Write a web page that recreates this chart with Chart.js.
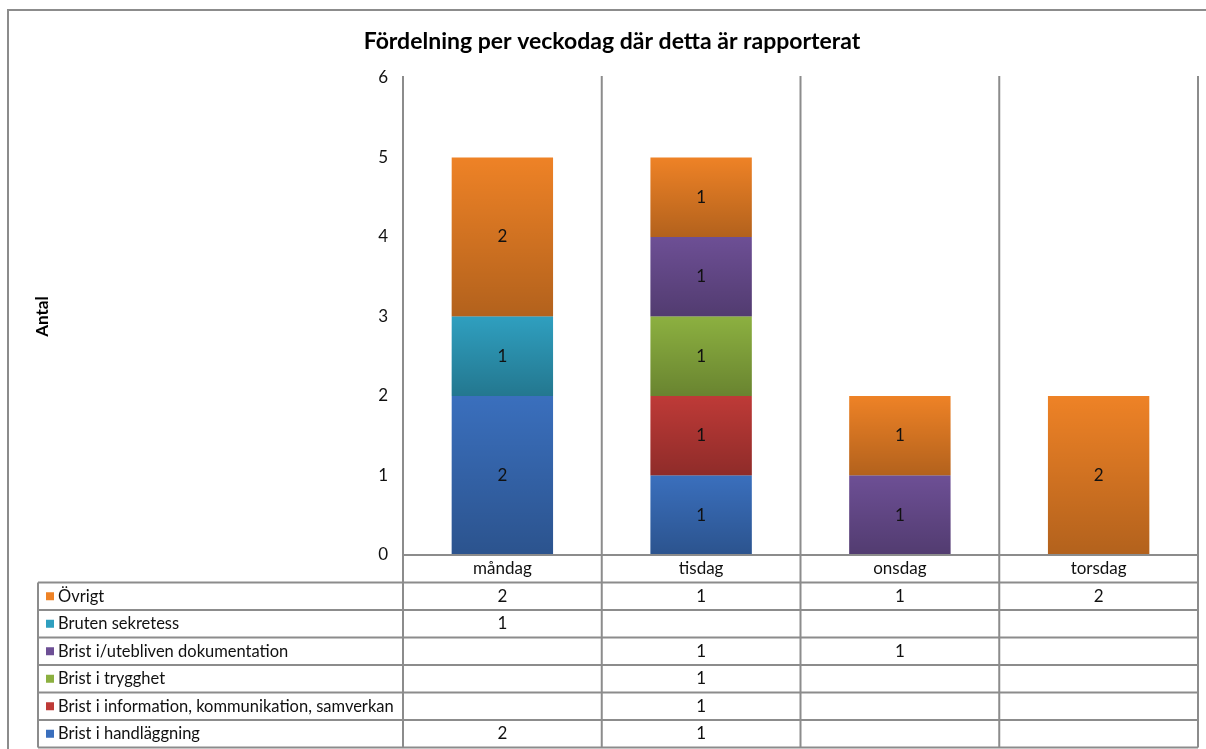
<!DOCTYPE html>
<html>
<head>
<meta charset="utf-8">
<script src="https://cdn.jsdelivr.net/npm/chart.js@4"></script>
<style>
  html, body { margin: 0; padding: 0; background: #fff; }
  #wrap { width: 1206px; height: 749px; position: relative; }
</style>
</head>
<body>
<div id="wrap"><canvas id="chart" width="1206" height="749"></canvas></div>
<script>
// data
const days = ['måndag', 'tisdag', 'onsdag', 'torsdag'];
const handlaggning = [2, 1, null, null];
const information = [null, 1, null, null];
const trygghet = [null, 1, null, null];
const dokumentation = [null, 1, 1, null];
const sekretess = [1, null, null, null];
const ovrigt = [2, 1, 1, 2];
const yMax = 6;

const seriesNames = ['Brist i handläggning', 'Brist i information, kommunikation, samverkan',
  'Brist i trygghet', 'Brist i/utebliven dokumentation', 'Bruten sekretess', 'Övrigt'];
const seriesData = [handlaggning, information, trygghet, dokumentation, sekretess, ovrigt];
const seriesColors = ['#3a6fbd', '#be3a37', '#8cb040', '#6d4f95', '#2f9fbf', '#ee8226'];

const FONT = 'Lato, "Liberation Sans", sans-serif';
const LINE = '#8c8c8c';

// gradient shading + value labels on each segment
const barPlugin = {
  id: 'barPlugin',
  afterDatasetsDraw(chart) {
    const ctx = chart.ctx;
    chart.data.datasets.forEach((ds, di) => {
      const meta = chart.getDatasetMeta(di);
      meta.data.forEach((el, i) => {
        const v = ds.data[i];
        if (v == null) return;
        const top = Math.min(el.y, el.base), bot = Math.max(el.y, el.base);
        const g = ctx.createLinearGradient(0, top, 0, bot);
        g.addColorStop(0, 'rgba(0,0,0,0)');
        g.addColorStop(1, 'rgba(0,0,0,0.25)');
        ctx.save();
        ctx.fillStyle = g;
        ctx.fillRect(el.x - el.width / 2, top, el.width, bot - top);
        ctx.fillStyle = '#111';
        ctx.font = '17px ' + FONT;
        ctx.textAlign = 'center';
        ctx.textBaseline = 'middle';
        ctx.fillText(String(v), el.x, (top + bot) / 2);
        ctx.restore();
      });
    });
  }
};

// frame, title, axis title and the data table
const tablePlugin = {
  id: 'tablePlugin',
  afterDraw(chart) {
    const ctx = chart.ctx;
    const area = chart.chartArea;
    const xs = chart.scales.x;
    const half = (xs.getPixelForValue(1) - xs.getPixelForValue(0)) / 2;
    const rowH = 27.5;
    const headTop = area.bottom;
    const headBot = headTop + rowH;
    const tabBot = headBot + rowH * seriesNames.length;
    const tabLeft = 38;

    ctx.save();
    // outer frame
    ctx.strokeStyle = LINE;
    ctx.lineWidth = 2;
    ctx.beginPath();
    ctx.moveTo(8, chart.height);
    ctx.lineTo(8, 10);
    ctx.lineTo(chart.width, 10);
    ctx.stroke();

    // title
    ctx.fillStyle = '#000';
    ctx.font = 'bold 23px ' + FONT;
    ctx.textAlign = 'center';
    ctx.textBaseline = 'middle';
    ctx.fillText('Fördelning per veckodag där detta är rapporterat', 612, 42);

    // y axis title
    ctx.save();
    ctx.translate(43, (area.top + area.bottom) / 2);
    ctx.rotate(-Math.PI / 2);
    ctx.font = 'bold 17px ' + FONT;
    ctx.fillText('Antal', 0, 0);
    ctx.restore();

    // vertical lines
    ctx.strokeStyle = LINE;
    ctx.lineWidth = 2;
    ctx.beginPath();
    for (let i = 0; i <= days.length; i++) {
      const x = i < days.length ? xs.getPixelForValue(i) - half : xs.getPixelForValue(days.length - 1) + half;
      ctx.moveTo(x, area.top - 2);
      ctx.lineTo(x, tabBot);
    }
    ctx.moveTo(tabLeft, headBot);
    ctx.lineTo(tabLeft, tabBot);
    // horizontal lines
    ctx.moveTo(area.left, headTop);
    ctx.lineTo(area.right, headTop);
    for (let r = 0; r <= seriesNames.length; r++) {
      const y = headBot + r * rowH;
      ctx.moveTo(tabLeft, y);
      ctx.lineTo(area.right, y);
    }
    ctx.stroke();

    // header
    ctx.font = '17px ' + FONT;
    ctx.fillStyle = '#111';
    days.forEach((d, i) => {
      ctx.fillText(d, xs.getPixelForValue(i), headTop + rowH / 2);
    });

    // rows (top row = last series)
    for (let r = 0; r < seriesNames.length; r++) {
      const si = seriesNames.length - 1 - r;
      const cy = headBot + r * rowH + rowH / 2;
      ctx.fillStyle = seriesColors[si];
      ctx.fillRect(46, cy - 4, 8, 8);
      ctx.fillStyle = '#111';
      ctx.textAlign = 'left';
      ctx.font = '16.5px ' + FONT;
      ctx.fillText(seriesNames[si], 58, cy);
      ctx.textAlign = 'center';
      ctx.font = '17px ' + FONT;
      seriesData[si].forEach((v, i) => {
        if (v != null) ctx.fillText(String(v), xs.getPixelForValue(i), cy);
      });
    }
    ctx.restore();
  }
};

new Chart(document.getElementById('chart'), {
  type: 'bar',
  data: {
    labels: days,
    datasets: seriesNames.map((name, i) => ({
      label: name,
      data: seriesData[i],
      backgroundColor: seriesColors[i],
      borderWidth: 0,
      barPercentage: 0.51,
      categoryPercentage: 1
    }))
  },
  options: {
    responsive: false,
    animation: false,
    devicePixelRatio: 1,
    layout: { padding: { left: 343, right: 8, top: 78, bottom: 194 } },
    plugins: {
      legend: { display: false },
      title: { display: false },
      tooltip: { enabled: false }
    },
    scales: {
      x: { stacked: true, display: false },
      y: {
        stacked: true,
        min: 0,
        max: yMax,
        afterFit: (scale) => { scale.width = 60; },
        grid: { display: false, drawTicks: false },
        border: { display: false },
        ticks: { stepSize: 1, padding: 15, color: '#111', font: { size: 17, family: FONT } }
      }
    }
  },
  plugins: [barPlugin, tablePlugin]
});
</script>
</body>
</html>
